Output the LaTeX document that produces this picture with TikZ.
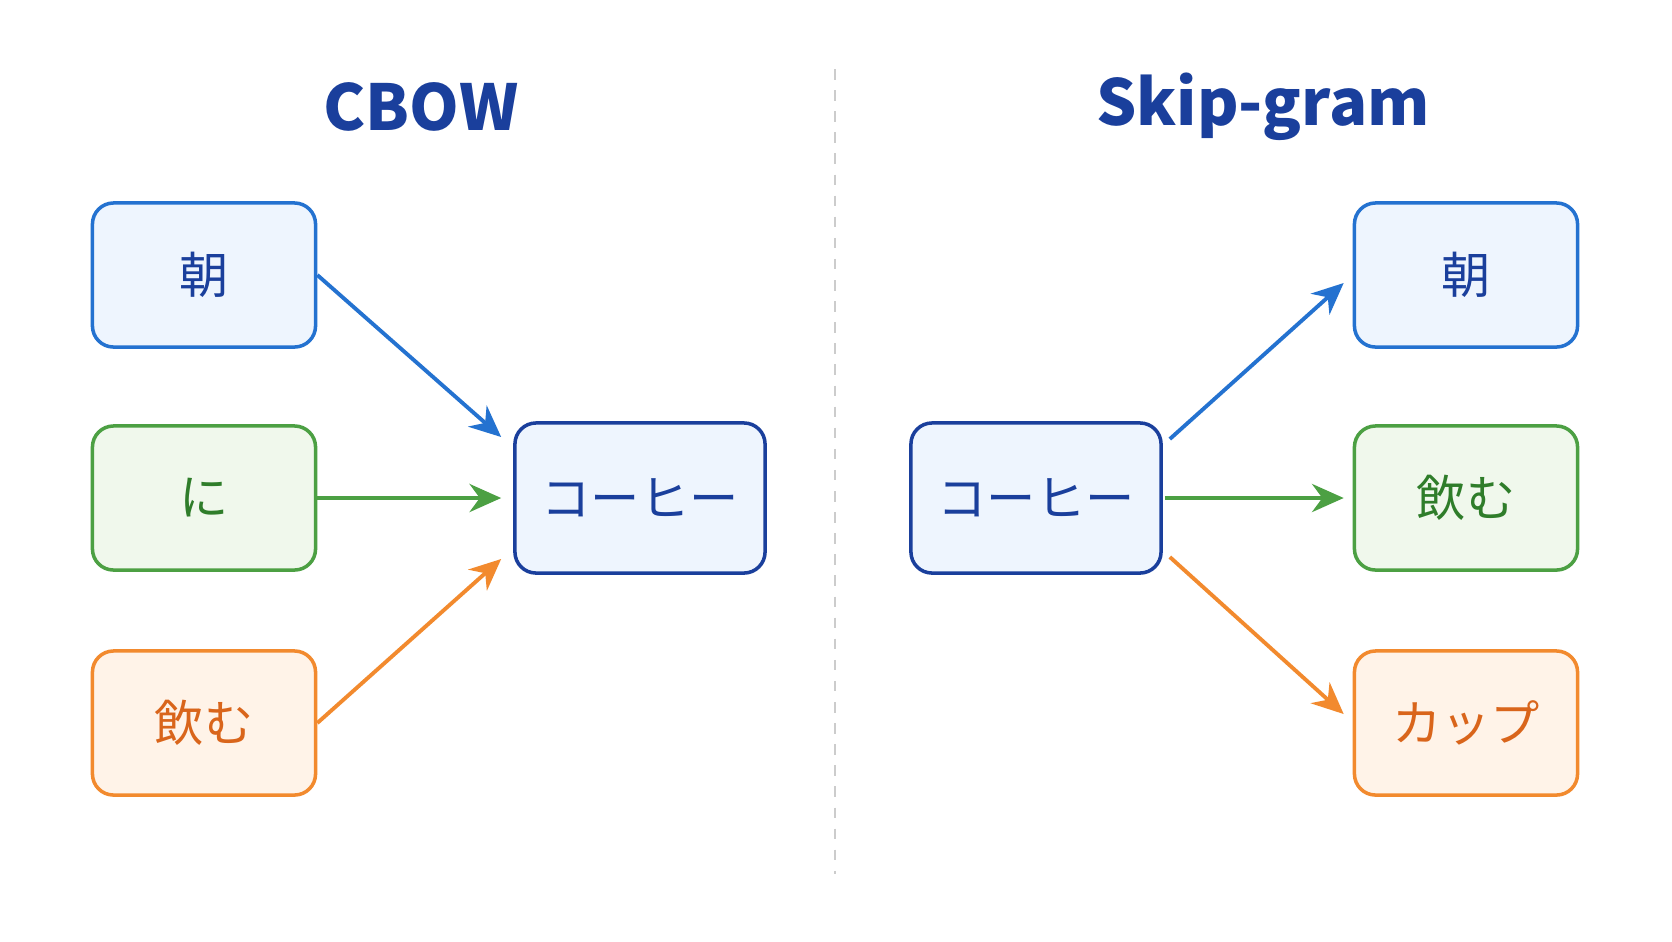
\documentclass[tikz,border=0pt]{standalone}
\usepackage{fontspec}
\newfontfamily\jp{Noto Sans CJK JP}
\newfontfamily\jpmed{Noto Sans CJK JP Medium}
\usetikzlibrary{calc,arrows.meta}
\definecolor{blueedge}{HTML}{2472D0}
\definecolor{bluefill}{HTML}{EEF5FE}
\definecolor{bluetext}{HTML}{1A3F9C}
\definecolor{greenedge}{HTML}{4CA043}
\definecolor{greenfill}{HTML}{F0F8EC}
\definecolor{greentext}{HTML}{2F7D2A}
\definecolor{orangeedge}{HTML}{F28A2E}
\definecolor{orangefill}{HTML}{FFF3E8}
\definecolor{orangetext}{HTML}{D9651B}
\begin{document}
\begin{tikzpicture}[x=0.01cm,y=-0.01cm,
word/.style = {draw=#1edge, fill=#1fill, text=#1text, line width=1pt,
  rounded corners=6pt, minimum width=2.23cm, minimum height=1.44cm,
  inner sep=0pt, font=\jp\fontsize{14}{14}\selectfont},
centre/.style = {word=blue, draw=bluetext, minimum width=2.5cm, minimum height=1.5cm},
title/.style = {text=bluetext, font=\jp\fontsize{18}{18}\selectfont\bfseries},
link/.style = {draw=#1edge, line width=1.1pt, -{Stealth[length=9pt,width=8pt]}}]
\useasboundingbox[fill=white] (0,0) rectangle (1672,941);
% divider
\draw[gray!40, dashed, line width=0.7pt] (835,69) -- (835,874);
% CBOW
\node[title] (cbow) at (421,107) {CBOW};
\node[word=blue]   (asaL)  at (204,275) {朝};
\node[word=green]  (niL)   at (204,498) {に};
\node[word=orange] (nomuL) at (204,723) {飲む};
\node[centre] (coffeeL) at (640,498) {コーヒー};
\draw[link=blue]   (asaL.east)  -- ($(coffeeL.west)+(-12,-61)$);
\draw[link=green]  (niL.east)   -- ($(coffeeL.west)+(-12,0)$);
\draw[link=orange] (nomuL.east) -- ($(coffeeL.west)+(-12,61)$);
% Skip-gram
\node[title] (skip) at (1263,107) {Skip-gram};
\node[centre] (coffeeR) at (1036,498) {コーヒー};
\node[word=blue]   (asaR)  at (1466,275) {朝};
\node[word=green]  (nomuR) at (1466,498) {飲む};
\node[word=orange] (cupR)  at (1466,723) {カップ};
\draw[link=blue]   ($(coffeeR.east)+(7,-59)$) -- ($(asaR.west)+(-9,8)$);
\draw[link=green]  ($(coffeeR.east)+(2,0)$)   -- ($(nomuR.west)+(-9,0)$);
\draw[link=orange] ($(coffeeR.east)+(7,59)$)  -- ($(cupR.west)+(-9,-9)$);
\end{tikzpicture}
\end{document}
